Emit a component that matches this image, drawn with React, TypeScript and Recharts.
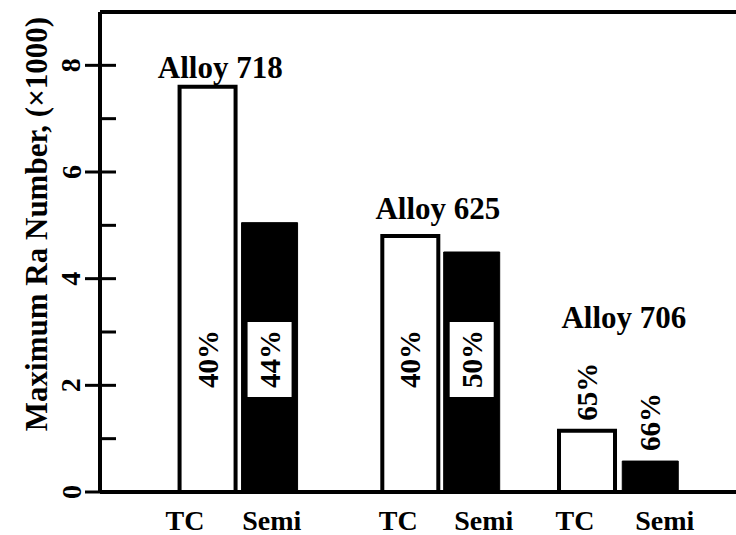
import React from 'react';
import {
  BarChart,
  Bar,
  XAxis,
  YAxis,
  Cell,
  LabelList,
  Label,
  ReferenceLine,
  ReferenceDot
} from 'recharts';

// process type under each bar
const categories = ['TC', 'Semi', 'TC', 'Semi', 'TC', 'Semi'];
// maximum Ra number (x1000)
const raValues = [7.6, 5.05, 4.8, 4.5, 1.15, 0.58];
// percent printed on / above each bar
const percents = ['40%', '44%', '40%', '50%', '65%', '66%'];
// slot of each bar on the x scale, and of each category label
const barSlots = [1.73, 2.73, 5.0, 5.99, 7.85, 8.87];
const labelSlots = [1.37, 2.77, 4.81, 6.19, 7.66, 9.11];
// alloy group titles: name, slot and value where the title sits
const alloyNames = ['Alloy 718', 'Alloy 625', 'Alloy 706'];
const alloySlots = [1.94, 5.45, 8.45];
const alloyLevels = [7.76, 5.12, 3.08];
const yTicks = [0, 1, 2, 3, 4, 5, 6, 7, 8];

const FONT = '"Liberation Serif", "Times New Roman", serif';

const data = categories.map((c, i) => ({
  name: c,
  slot: barSlots[i],
  ra: raValues[i],
  pct: percents[i]
}));

const YTick = ({ x, y, payload }: any) => {
  const major = payload.value % 2 === 0;
  return (
    <g>
      <line x1={major ? x - 15 : x} x2={x + 16} y1={y} y2={y} stroke="#000" strokeWidth={3} />
      {major && (
        <text
          x={x - 29}
          y={y}
          transform={`rotate(-90 ${x - 29} ${y})`}
          textAnchor="middle"
          dominantBaseline="central"
          fontFamily={FONT}
          fontWeight="bold"
          fontSize={28}
          fill="#000"
        >
          {payload.value}
        </text>
      )}
    </g>
  );
};

const XTick = ({ x, y, index }: any) => (
  <text x={x} y={y + 38} textAnchor="middle" fontFamily={FONT} fontWeight="bold" fontSize={28} fill="#000">
    {categories[index]}
  </text>
);

const PctLabel = ({ x, y, width, height, index }: any) => {
  const cx = x + width / 2;
  const tall = height > 150;
  const cy = tall ? y + height - 133 : y - 11 - 28;
  const semi = index % 2 === 1;
  return (
    <g>
      {tall && semi && <rect x={cx - 22} y={cy - 37} width={44} height={75} fill="#fff" />}
      <text
        x={cx}
        y={cy}
        transform={`rotate(-90 ${cx} ${cy})`}
        textAnchor="middle"
        dominantBaseline="central"
        fontFamily={FONT}
        fontWeight="bold"
        fontSize={29}
        fill="#000"
      >
        {percents[index]}
      </text>
    </g>
  );
};

const AlloyTitle = (name: string) => ({ cx, cy }: any) => (
  <text x={cx} y={cy} textAnchor="middle" fontFamily={FONT} fontWeight="bold" fontSize={31} fill="#000">
    {name}
  </text>
);

export default function App() {
  return (
    <div style={{ position: 'fixed', left: 0, top: 0, width: 736, height: 535, overflow: 'hidden', background: '#fff' }}>
      <BarChart width={790} height={535} data={data} margin={{ top: 12, right: 8, left: 0, bottom: 0 }}>
        <XAxis
          type="number"
          dataKey="slot"
          domain={[0, 11]}
          ticks={labelSlots}
          interval={0}
          height={43}
          tickSize={0}
          tickMargin={0}
          tickLine={false}
          axisLine={{ stroke: '#000', strokeWidth: 4 }}
          tick={<XTick />}
        />
        <YAxis
          type="number"
          domain={[0, 9]}
          ticks={yTicks}
          interval={0}
          width={100}
          tickSize={0}
          tickMargin={0}
          tickLine={false}
          axisLine={{ stroke: '#000', strokeWidth: 4 }}
          tick={<YTick />}
        >
          <Label
            content={() => (
              <text
                x={36}
                y={224}
                transform="rotate(-90 36 224)"
                textAnchor="middle"
                dominantBaseline="central"
                fontFamily={FONT}
                fontWeight="bold"
                fontSize={31}
                fill="#000"
              >
                Maximum Ra Number, (×1000)
              </text>
            )}
          />
        </YAxis>
        <ReferenceLine y={9} stroke="#000" strokeWidth={4} />
        <Bar dataKey="ra" barSize={56} isAnimationActive={false}>
          {data.map((d, i) => (
            <Cell
              key={i}
              fill={i % 2 === 0 ? '#fff' : '#000'}
              stroke="#000"
              strokeWidth={i % 2 === 0 ? 4 : 1}
            />
          ))}
          <LabelList dataKey="pct" content={<PctLabel />} />
        </Bar>
        {alloyNames.map((n, i) => (
          <ReferenceDot
            key={n}
            x={alloySlots[i]}
            y={alloyLevels[i]}
            r={0}
            shape={AlloyTitle(n)}
          />
        ))}
      </BarChart>
    </div>
  );
}
